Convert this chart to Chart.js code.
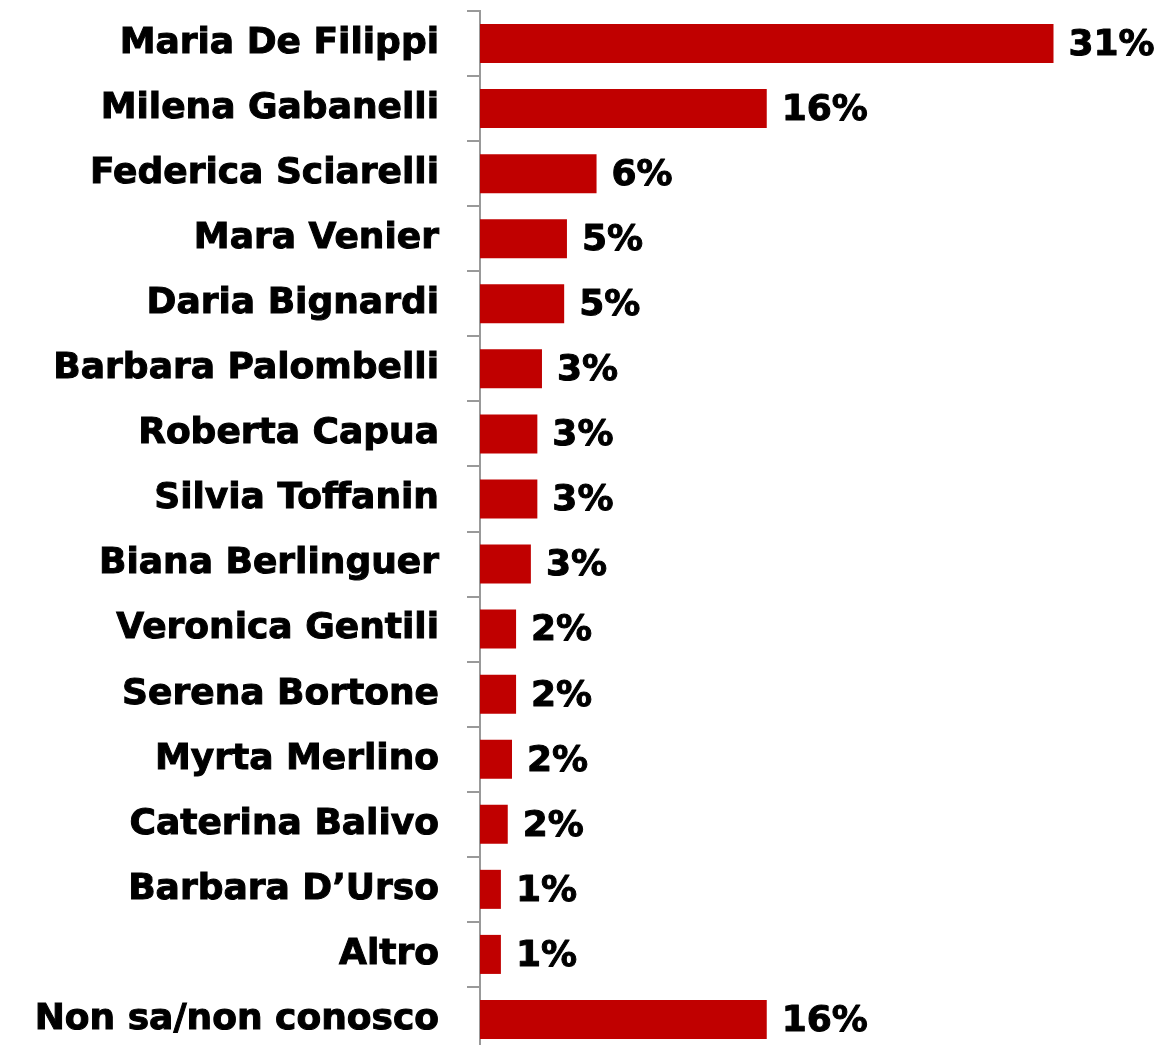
<!DOCTYPE html>
<html>
<head>
<meta charset="utf-8">
<script src="https://cdn.jsdelivr.net/npm/chart.js@4/dist/chart.umd.min.js"></script>
<style>
  html, body { margin: 0; padding: 0; background: #fff; overflow: hidden; }
  #wrap { width: 1160px; height: 1052px; }
</style>
</head>
<body>
<div id="wrap"><canvas id="presenterChart"></canvas></div>
<script>
// categories and values (percent)
var names = ['Maria De Filippi', 'Milena Gabanelli', 'Federica Sciarelli', 'Mara Venier',
  'Daria Bignardi', 'Barbara Palombelli', 'Roberta Capua', 'Silvia Toffanin',
  'Biana Berlinguer', 'Veronica Gentili', 'Serena Bortone', 'Myrta Merlino',
  'Caterina Balivo', 'Barbara D\u2019Urso', 'Altro', 'Non sa/non conosco'];
var shares = [31.0, 15.5, 6.3, 4.7, 4.55, 3.35, 3.1, 3.1, 2.75, 1.95, 1.95, 1.73, 1.5, 1.13, 1.13, 15.5];
var shareLabels = ['31%', '16%', '6%', '5%', '5%', '3%', '3%', '3%', '3%', '2%', '2%', '2%', '2%', '1%', '1%', '16%'];

var fontFamily = '"DejaVu Sans", sans-serif';
var labelFont = 'bold 36px ' + fontFamily;

var valueLabels = {
  id: 'valueLabels',
  afterDatasetsDraw: function (chart) {
    var ctx = chart.ctx;
    var meta = chart.getDatasetMeta(0);
    ctx.save();
    ctx.font = labelFont;
    ctx.fillStyle = '#000';
    ctx.strokeStyle = '#000';
    ctx.lineWidth = 1;
    ctx.lineJoin = 'round';
    ctx.textAlign = 'left';
    ctx.textBaseline = 'middle';
    meta.data.forEach(function (bar, i) {
      ctx.strokeText(shareLabels[i], bar.x + 15, bar.y + 2);
      ctx.fillText(shareLabels[i], bar.x + 15, bar.y + 2);
    });
    ctx.restore();
  }
};

var ctx = document.getElementById('presenterChart');
new Chart(ctx, {
  type: 'bar',
  data: {
    labels: names,
    datasets: [{
      data: shares,
      backgroundColor: '#C00000',
      borderWidth: 0,
      barPercentage: 0.6,
      categoryPercentage: 1.0
    }]
  },
  options: {
    indexAxis: 'y',
    responsive: true,
    maintainAspectRatio: false,
    animation: false,
    layout: { padding: { top: 11, right: 14, bottom: 0, left: 0 } },
    plugins: {
      legend: { display: false },
      tooltip: { enabled: false }
    },
    scales: {
      x: {
        display: false,
        min: 0,
        max: 36
      },
      y: {
        afterFit: function (scale) {
          scale.width = 480;
          scale.paddingTop = 0;
          scale.paddingBottom = 0;
        },
        grid: {
          offset: true,
          drawOnChartArea: false,
          drawTicks: true,
          tickLength: 13,
          color: '#999',
          lineWidth: 2
        },
        border: { display: true, color: '#999', width: 2 },
        ticks: {
          color: '#000',
          padding: 28,
          textStrokeColor: '#000',
          textStrokeWidth: 1,
          font: { family: fontFamily, size: 36, weight: 'bold' }
        }
      }
    }
  },
  plugins: [valueLabels]
});
</script>
</body>
</html>
